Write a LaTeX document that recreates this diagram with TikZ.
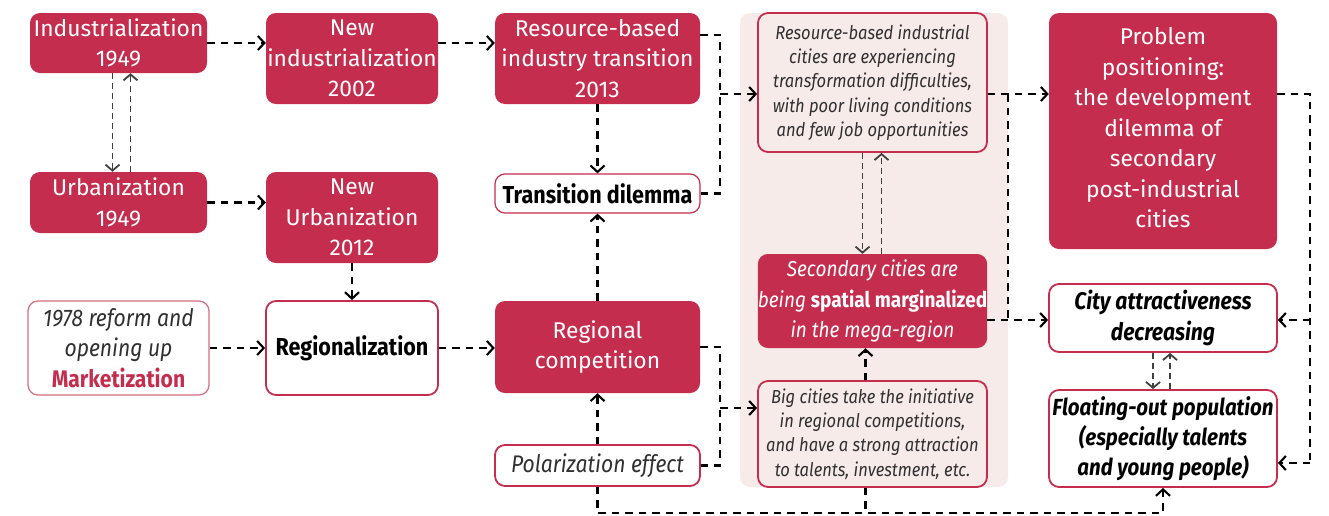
\documentclass[tikz,border=0pt]{standalone}
\usepackage{fontspec}
\setmainfont{Fira Sans}
\newfontfamily\cond{Fira Sans}[FakeStretch=0.88]
\usetikzlibrary{arrows.meta}
\definecolor{crim}{HTML}{C52D4E}
\definecolor{panel}{HTML}{F7EBE9}
\definecolor{itgrey}{HTML}{303030}
\tikzset{
  redbox/.style={fill=crim, rounded corners=10pt, text=white, inner sep=0pt, align=center,
    font=\fontsize{22.8}{30.5}\selectfont},
  wbox/.style={draw=crim, line width=1.8pt, fill=white, rounded corners=10pt, inner sep=0pt, align=center},
  pbox/.style={draw=crim, line width=1.8pt, fill=panel, rounded corners=10pt, inner sep=0pt, align=center,
    text=itgrey, font=\cond\itshape\fontsize{18.8}{24.3}\selectfont},
  dline/.style={draw=black, line width=2.1pt, dash pattern=on 7.5pt off 6pt},
  con/.style={dline, -{Straight Barb[length=6.5pt,width=14pt]}},
  thincon/.style={draw=black!75, line width=1.1pt, dash pattern=on 6pt off 4pt, -{Straight Barb[length=6pt,width=14pt,line width=1.8pt]}}
}
\begin{document}
\begin{tikzpicture}[x=1pt,y=-1pt]
\useasboundingbox (0,0) rectangle (1329,515);
% panel
\fill[panel, rounded corners=10pt] (740,13) rectangle (1008,487);

% column 1
\node[redbox, minimum width=177, minimum height=60] (ind) at (118.5,43) {Industrialization\\1949};
\node[redbox, minimum width=177, minimum height=61] (urb) at (118.5,202.5) {Urbanization\\1949};
\node[wbox, draw=crim!70, line width=1.2pt, minimum width=181, minimum height=94,
  font=\cond\itshape\fontsize{24}{30.5}\selectfont, text=itgrey] (ref) at (118.5,348)
  {1978 reform and\\opening up\\{\upshape\bfseries\color{crim}Marketization}};

% column 2
\node[redbox, minimum width=172, minimum height=91] (nind) at (352,58.5) {New\\industrialization\\2002};
\node[redbox, minimum width=172, minimum height=91] (nurb) at (352,217.5) {New\\Urbanization\\2012};
\node[wbox, minimum width=172, minimum height=94, font=\cond\bfseries\fontsize{24.5}{30}\selectfont] (reg) at (352,348) {Regionalization};

% column 3
\node[redbox, minimum width=205, minimum height=91] (res) at (597.5,58.5) {Resource-based\\industry transition\\2013};
\node[wbox, line width=1.2pt, minimum width=205, minimum height=39, font=\cond\bfseries\fontsize{24.5}{30}\selectfont] (td) at (597.5,193.5) {Transition dilemma};
\node[redbox, minimum width=205, minimum height=92] (rcomp) at (597.5,347) {Regional\\competition};
\node[wbox, minimum width=205, minimum height=41, font=\cond\itshape\fontsize{24}{30}\selectfont, text=itgrey] (pe) at (597.5,465.5) {Polarization effect};

% column 4 (panel)
\node[pbox, minimum width=229, minimum height=139] (rc) at (872.5,82.5)
  {Resource-based industrial\\cities are experiencing\\transformation difficulties,\\with poor living conditions\\and few job opportunities};
\node[redbox, minimum width=229, minimum height=94, font=\cond\itshape\fontsize{21.6}{30.5}\selectfont] (sc) at (872.5,301)
  {Secondary cities are\\being {\upshape\bfseries spatial marginalized}\\in the mega-region};
\node[pbox, minimum width=229, minimum height=106] (big) at (872.5,434)
  {Big cities take the initiative\\in regional competitions,\\and have a strong attraction\\to talents, investment, etc.};

% column 5
\node[redbox, minimum width=228, minimum height=236] (pp) at (1163,131)
  {Problem\\positioning:\\the development\\dilemma of\\secondary\\post-industrial\\cities\rule[-7pt]{0pt}{0pt}};
\node[wbox, minimum width=228, minimum height=68, font=\cond\bfseries\itshape\fontsize{24}{31}\selectfont] (ca) at (1163,318)
  {City attractiveness\\decreasing};
\node[wbox, minimum width=228, minimum height=97, font=\cond\bfseries\itshape\fontsize{23.3}{30}\selectfont] (fo) at (1163,438.5)
  {Floating-out population\\(especially talents\\and young people)};

% connectors
\draw[con] (ind.east) -- (ind.east -| nind.west);
\draw[con] (ind.east -| nind.east) -- (ind.east -| res.west);
\draw[con] (urb.east) -- (urb.east -| nurb.west);
\draw[thincon] ([xshift=-6pt]ind.south) -- ([xshift=-6pt]urb.north);
\draw[thincon] ([xshift=12pt]urb.north) -- ([xshift=12pt]ind.south);
\draw[con] (nurb.south) -- (reg.north);
\draw[con] (ref.east) -- (ref.east -| reg.west);
\draw[con] (reg.east) -- (reg.east -| rcomp.west);
\draw[con] (res.south) -- (td.north);
\draw[con] (rcomp.north) -- (td.south);
\draw[con] (pe.north) -- (rcomp.south);

\coordinate (j1) at (720,94);
\draw[dline] (res.east |- 0,35) -| (j1);
\draw[dline] (td.east) -| (j1);
\draw[con] (j1) -- (j1 -| rc.west);

\coordinate (j2) at (720,408);
\draw[dline] (rcomp.east) -| (j2);
\draw[dline] (pe.east) -| (j2);
\draw[con] (j2) -- (j2 -| big.west);

\draw[thincon] ([xshift=-10pt]rc.south) -- ([xshift=-10pt]sc.north);
\draw[thincon] ([xshift=9pt]sc.north) -- ([xshift=9pt]rc.south);
\draw[con] ([xshift=-7pt]big.north) -- ([xshift=-7pt]sc.south);

\coordinate (j3) at (1008,94);
\coordinate (j4) at (1008,320);
\draw[con] (rc.east |- j3) -- (pp.west |- j3);
\draw[dline] (j3) -- (j4);
\draw[con] (sc.east |- j4) -- (ca.west |- j4);

\coordinate (j5) at (1310,320);
\coordinate (j6) at (1310,463);
\draw[dline] (pp.east |- j3) -| (j6);
\draw[con] (j5) -- (ca.east |- j5);
\draw[con] (j6) -- (fo.east |- j6);

\draw[thincon] ([xshift=-10pt]ca.south) -- ([xshift=-10pt]fo.north);
\draw[thincon] ([xshift=7pt]fo.north) -- ([xshift=7pt]ca.south);

\coordinate (b1) at (597.5,513);
\coordinate (b2) at (865.5,513);
\draw[dline] (big.south -| b2) -- (b2);
\draw[con] (pe.south) -- (b1) -| (fo.south);
\end{tikzpicture}
\end{document}
